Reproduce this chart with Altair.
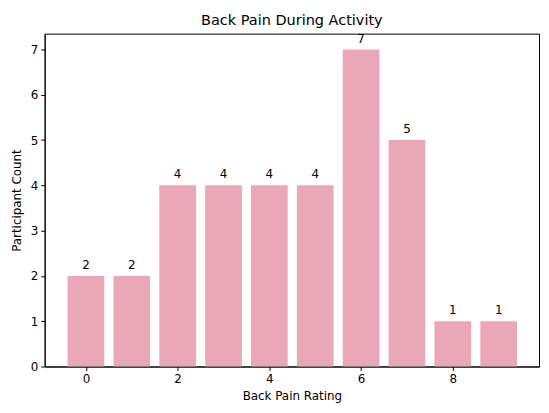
import altair as alt
import pandas as pd

ratings = [0, 1, 2, 3, 4, 5, 6, 7, 8, 9]
counts = [2, 2, 4, 4, 4, 4, 7, 5, 1, 1]

df = pd.DataFrame({"rating": ratings, "count": counts})

FONT = "DejaVu Sans"
xscale = alt.Scale(domain=[-0.9, 9.88], nice=False, zero=False)
yscale = alt.Scale(domain=[0, 7.35], nice=False)

base = alt.Chart(df).transform_calculate(
    x0="datum.rating - 0.4", x1="datum.rating + 0.4"
)

bars = base.mark_rect(color="#e9a7b8").encode(
    x=alt.X("x0:Q", scale=xscale,
            axis=alt.Axis(values=[0, 2, 4, 6, 8], title="Back Pain Rating", grid=False,
                          format="d", titlePadding=6)),
    x2="x1:Q",
    y=alt.Y("count:Q", scale=yscale,
            axis=alt.Axis(values=[0, 1, 2, 3, 4, 5, 6, 7], title="Participant Count",
                          grid=False, format="d", titlePadding=7)),
    y2=alt.datum(0),
)

labels = base.mark_text(baseline="bottom", dy=-4, fontSize=12, font=FONT, color="black").encode(
    x=alt.X("rating:Q", scale=xscale),
    y=alt.Y("count:Q", scale=yscale),
    text=alt.Text("count:Q"),
)

chart = (bars + labels).properties(
    width=499, height=336,
    title=alt.TitleParams("Back Pain During Activity", fontSize=14.6, font=FONT,
                          fontWeight="normal", color="black", offset=5),
    autosize=alt.AutoSizeParams(type="none"),
    padding={"left": 37, "top": 24, "right": 2, "bottom": 36},
).configure_view(
    stroke="black", strokeWidth=1
).configure_axis(
    labelFont=FONT, titleFont=FONT, labelFontSize=12, titleFontSize=12,
    titleFontWeight="normal", labelColor="black", titleColor="black",
    domainColor="black", tickColor="black", tickSize=4, labelPadding=3,
)

chart.save("out.html", embed_options={"renderer": "svg", "actions": False})
